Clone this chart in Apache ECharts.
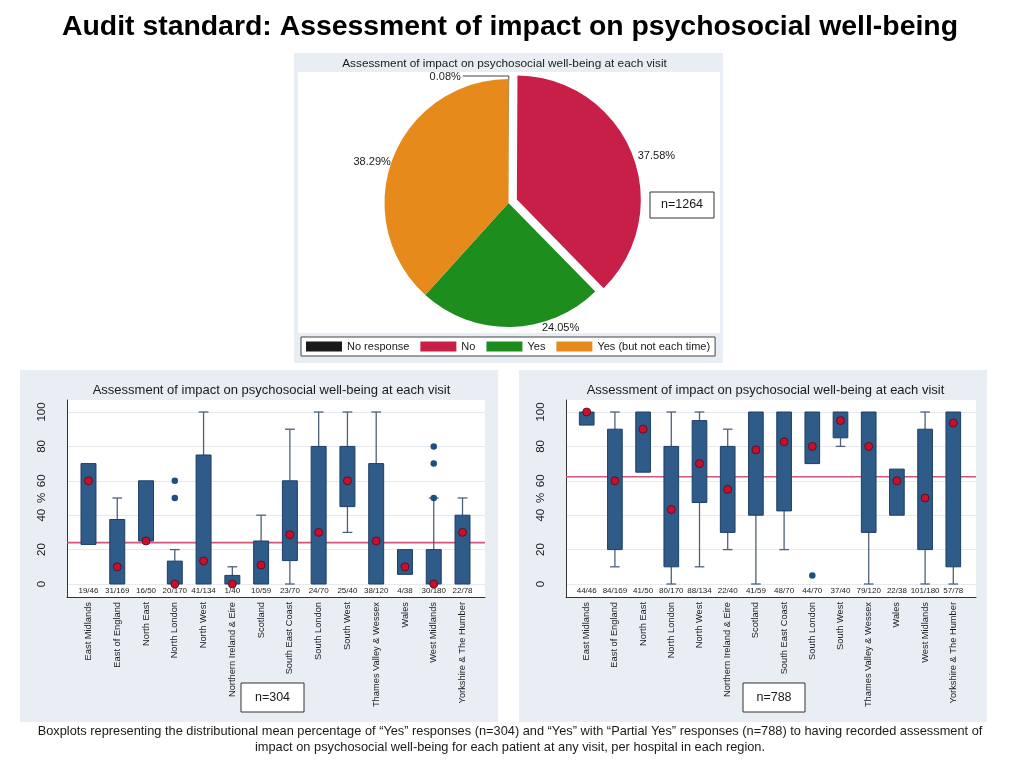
<!DOCTYPE html>
<html><head><meta charset="utf-8">
<script src="https://cdn.jsdelivr.net/npm/echarts@6/dist/echarts.min.js"></script>
<style>html,body{margin:0;padding:0;background:#fff;}#c{width:1024px;height:768px;}</style>
</head><body><div id="c"></div>
<script>
// ---------------- data ----------------
const pieCategories = ['No response', 'No', 'Yes', 'Yes (but not each time)'];
const pieValues = [0.08, 37.58, 24.05, 38.29];
const pieN = 'n=1264';

const regions = ['East Midlands', 'East of England', 'North East', 'North London', 'North West',
  'Northern Ireland & Eire', 'Scotland', 'South East Coast', 'South London', 'South West',
  'Thames Valley & Wessex', 'Wales', 'West Midlands', 'Yorkshire & The Humber'];

// Left panel: "Yes" responses (n=304)
const yesFractions = ['19/46', '31/169', '16/50', '20/170', '41/134', '1/40', '10/59', '23/70', '24/70', '25/40', '38/120', '4/38', '30/180', '22/78'];
const yesLow  = [23, 0, 25, 0, 0, 0, 0, 0, 0, 30, 0, 5.6, 0, 0];
const yesQ1   = [23, 0, 25, 0, 0, 0, 0, 13.6, 0, 45, 0, 5.6, 0, 0];
const yesQ3   = [70, 37.5, 60, 13.3, 75, 5, 25, 60, 80, 80, 70, 20, 20, 40];
const yesHigh = [70, 50, 60, 20, 100, 10, 40, 90, 100, 100, 100, 20, 50, 50];
const yesMean = [60, 10, 25, 0, 13.4, 0, 11, 28.7, 30, 60, 25, 10, 0, 30];
const yesOutliers = [['North London', 50], ['North London', 60], ['West Midlands', 50], ['West Midlands', 70], ['West Midlands', 80]];
const yesN = 'n=304';

// Right panel: "Yes" + "Partial Yes" responses (n=788)
const partFractions = ['44/46', '84/169', '41/50', '80/170', '88/134', '22/40', '41/59', '48/70', '44/70', '37/40', '79/120', '22/38', '101/180', '57/78'];
const partLow  = [92.4, 10, 65, 0, 10, 20, 0, 20, 70, 80, 0, 40, 0, 0];
const partQ1   = [92.4, 20, 65, 10, 47.4, 30, 40, 42.5, 70, 85, 30, 40, 20, 10];
const partQ3   = [100, 90, 100, 80, 95, 80, 100, 100, 100, 100, 100, 66.8, 90, 100];
const partHigh = [100, 100, 100, 100, 100, 90, 100, 100, 100, 100, 100, 66.8, 100, 100];
const partMean = [100, 60, 90, 43.3, 70, 55, 78, 82.7, 80, 95, 80, 60, 50, 93.6];
const partOutliers = [['South London', 5]];
const partN = 'n=788';

const yTicks = [0, 20, 40, 60, 80, 100];
const mainTitle = 'Audit standard: Assessment of impact on psychosocial well-being';
const subTitle = 'Assessment of impact on psychosocial well-being at each visit';
const caption = 'Boxplots representing the distributional mean percentage of \u201cYes\u201d responses (n=304) and \u201cYes\u201d with \u201cPartial Yes\u201d responses (n=788) to having recorded assessment of\nimpact on psychosocial well-being for each patient at any visit, per hospital in each region.';

// ---------------- style ----------------
const FONT = "'Liberation Sans Narrow','Arial Narrow','Liberation Sans',Arial,sans-serif";
const PANEL = '#e8eef3';
const BOX = '#2e5b88';
const BOX_EDGE = '#1c3f66';
const WHISKER = '#4f6179';
const OUTLIER = '#1f4f80';
const MEAN = '#c8102e';
const REFLINE = '#d0557a';
const PIE_COLORS = ['#1a1a1a', '#c81f48', '#1d8d1d', '#e68a1c'];
const TXT = '#1a1a1a';

const overallYes = pieValues[2];
const overallYesPartial = +(pieValues[2] + pieValues[3]).toFixed(2);

const panels = [
  { plot: [67, 400, 418, 197], lab: [67, 412, 418, 172], data: [74.1, 412, 402.8, 172],
    fr: yesFractions, lo: yesLow, q1: yesQ1, q3: yesQ3, hi: yesHigh, mean: yesMean, out: yesOutliers, ref: overallYes },
  { plot: [566, 400, 410, 197], lab: [566, 412, 410, 172], data: [572.6, 412, 394.8, 172],
    fr: partFractions, lo: partLow, q1: partQ1, q3: partQ3, hi: partHigh, mean: partMean, out: partOutliers, ref: overallYesPartial }
];

function rectOpt(r) { return { left: r[0], top: r[1], width: r[2], height: r[3], outerBoundsMode: 'none', containLabel: false }; }

function renderBox(params, api) {
  const i = api.value(0);
  const lo = api.value(1), q1 = api.value(2), q3 = api.value(3), hi = api.value(4);
  const band = api.size([1, 0])[0];
  const bw = band * 0.52, cw = band * 0.34;
  const pLo = api.coord([i, lo]), pQ1 = api.coord([i, q1]), pQ3 = api.coord([i, q3]), pHi = api.coord([i, hi]);
  const x = pQ1[0];
  const ws = { stroke: WHISKER, lineWidth: 1.3 };
  const children = [];
  if (hi > q3) {
    children.push({ type: 'line', shape: { x1: x, y1: pQ3[1], x2: x, y2: pHi[1] }, style: ws });
    children.push({ type: 'line', shape: { x1: x - cw / 2, y1: pHi[1], x2: x + cw / 2, y2: pHi[1] }, style: ws });
  }
  if (lo < q1) {
    children.push({ type: 'line', shape: { x1: x, y1: pQ1[1], x2: x, y2: pLo[1] }, style: ws });
    children.push({ type: 'line', shape: { x1: x - cw / 2, y1: pLo[1], x2: x + cw / 2, y2: pLo[1] }, style: ws });
  }
  children.push({ type: 'rect', shape: { x: x - bw / 2, y: pQ3[1], width: bw, height: pQ1[1] - pQ3[1] },
    style: { fill: BOX, stroke: BOX_EDGE, lineWidth: 1 } });
  return { type: 'group', children };
}

const grid = [], xAxis = [], yAxis = [], series = [];
panels.forEach((p, k) => {
  const g0 = grid.length;
  grid.push(Object.assign(rectOpt(p.plot), { show: true, backgroundColor: '#ffffff', borderWidth: 0 }));
  grid.push(rectOpt(p.lab));
  grid.push(rectOpt(p.data));
  const x0 = xAxis.length, y0 = yAxis.length;
  xAxis.push({ type: 'value', gridIndex: g0, min: 0, max: 1, axisLine: { show: true, onZero: false, lineStyle: { color: '#333', width: 1 } },
    axisTick: { show: false }, axisLabel: { show: false }, splitLine: { show: false } });
  yAxis.push({ type: 'value', gridIndex: g0, min: 0, max: 1, axisLine: { show: true, onZero: false, lineStyle: { color: '#333', width: 1 } },
    axisTick: { show: false }, axisLabel: { show: false }, splitLine: { show: false } });
  xAxis.push({ type: 'value', gridIndex: g0 + 1, min: 0, max: 1, show: false });
  yAxis.push({ type: 'value', gridIndex: g0 + 1, min: yTicks[0], max: yTicks[yTicks.length - 1], interval: 20,
    axisLine: { show: false }, axisTick: { show: false },
    axisLabel: { rotate: 90, margin: 19, fontSize: 11.5, color: TXT, fontFamily: FONT },
    splitLine: { show: true, lineStyle: { color: '#e6eaee', width: 1 } },
    name: '%', nameLocation: 'middle', nameGap: 19, nameRotate: 90, nameMoveOverlap: false,
    nameTextStyle: { fontSize: 11.5, color: TXT, fontFamily: FONT } });
  xAxis.push({ type: 'category', gridIndex: g0 + 2, data: regions, position: 'bottom', offset: 13,
    axisLine: { show: false }, axisTick: { show: false },
    axisLabel: { interval: 0, rotate: 90, margin: 5, fontSize: 9.3, color: TXT, fontFamily: FONT } });
  xAxis.push({ type: 'category', gridIndex: g0 + 2, data: p.fr, position: 'bottom', offset: 0,
    axisLine: { show: false }, axisTick: { show: false },
    axisLabel: { interval: 0, margin: 3, fontSize: 8, color: TXT, fontFamily: FONT } });
  yAxis.push({ type: 'value', gridIndex: g0 + 2, min: 0, max: 100, show: false });

  series.push({ type: 'line', xAxisIndex: x0 + 1, yAxisIndex: y0 + 1, data: [[0, p.ref], [1, p.ref]], symbol: 'none', silent: true,
    lineStyle: { color: REFLINE, width: 1.6 }, z: 1 });
  series.push({ type: 'custom', xAxisIndex: x0 + 2, yAxisIndex: y0 + 2, renderItem: renderBox, silent: true, z: 3,
    encode: { x: 0, y: [1, 2, 3, 4] },
    data: regions.map((r, i) => [i, p.lo[i], p.q1[i], p.q3[i], p.hi[i]]) });
  series.push({ type: 'scatter', xAxisIndex: x0 + 2, yAxisIndex: y0 + 2, data: p.out, symbol: 'circle', symbolSize: 6.5, silent: true, z: 4,
    itemStyle: { color: OUTLIER, opacity: 1 } });
  series.push({ type: 'scatter', xAxisIndex: x0 + 2, yAxisIndex: y0 + 2, data: regions.map((r, i) => [r, p.mean[i]]), symbol: 'circle', symbolSize: 8, silent: true, z: 5,
    itemStyle: { color: MEAN, borderColor: '#4a0d18', borderWidth: 0.8, opacity: 1 } });
});

series.push({
  type: 'pie', center: [508.5, 203], radius: 124, startAngle: 90, clockwise: true,
  selectedMode: 'single', selectedOffset: 9, avoidLabelOverlap: false, silent: true,
  data: pieCategories.map((n, i) => ({ name: n, value: pieValues[i], itemStyle: { color: PIE_COLORS[i] }, selected: i === 1,
    labelLine: { show: i === 0 } })),
  label: { show: true, position: 'outside', formatter: (q) => q.value.toFixed(2) + '%', fontSize: 11, color: TXT, fontFamily: FONT, distanceToLabelLine: 5 },
  labelLine: { show: false, length: 0, length2: 0, lineStyle: { color: '#444', width: 1 } },
  labelLayout: function (q) {
    if (q.dataIndex === 2) return { dx: 26, dy: 1 };
    if (q.dataIndex === 1) return { dx: 1, dy: 3 };
    if (q.dataIndex === 3) return { dx: 3, dy: 4 };
    const px = q.rect.x + q.rect.width / 2, py = q.rect.y;
    return { x: px - 48, y: py - 2, align: 'right', verticalAlign: 'middle',
      labelLinePoints: [[px, py], [px, py - 3], [px - 46, py - 3]] };
  },
  itemStyle: { borderWidth: 0 },
  select: { itemStyle: { borderWidth: 0 } }
});

function txt(x, y, s, size, extra) {
  return Object.assign({ type: 'text', x: x, y: y, silent: true, z: 10,
    style: Object.assign({ text: s, fontSize: size, fontFamily: FONT, fill: TXT, align: 'center', verticalAlign: 'middle' }, extra || {}) });
}
function nbox(x, y, w, h, s) {
  return { type: 'group', silent: true, z: 10, children: [
    { type: 'rect', shape: { x: x, y: y, width: w, height: h }, style: { fill: '#fff', stroke: '#333', lineWidth: 1 } },
    { type: 'text', x: x + w / 2, y: y + h / 2, style: { text: s, fontSize: 12.5, fontFamily: FONT, fill: TXT, align: 'center', verticalAlign: 'middle' } }
  ] };
}

const option = {
  animation: false,
  textStyle: { fontFamily: FONT },
  grid, xAxis, yAxis, series,
  legend: {
    data: pieCategories, left: 301, top: 337, orient: 'horizontal', selectedMode: false,
    itemWidth: 36, itemHeight: 10, itemGap: 11, icon: 'rect', padding: [4, 5],
    backgroundColor: '#fff', borderColor: '#444', borderWidth: 1, borderRadius: 0,
    textStyle: { fontSize: 11, color: TXT, fontFamily: FONT }
  },
  graphic: [
    { type: 'rect', z: -10, silent: true, shape: { x: 294, y: 53, width: 429, height: 310 }, style: { fill: PANEL } },
    { type: 'rect', z: -9, silent: true, shape: { x: 298, y: 72, width: 422, height: 261 }, style: { fill: '#fff' } },
    { type: 'rect', z: -10, silent: true, shape: { x: 20, y: 370, width: 478, height: 352 }, style: { fill: PANEL } },
    { type: 'rect', z: -10, silent: true, shape: { x: 519, y: 370, width: 468, height: 352 }, style: { fill: PANEL } },
    txt(510, 27, mainTitle, 28.4, { fontWeight: 'bold', fill: '#000' }),
    txt(504.5, 64, subTitle, 11.8),
    txt(271.5, 390, subTitle, 13),
    txt(765.5, 390, subTitle, 13),
    txt(510, 739, caption, 12.8, { lineHeight: 16 }),
    nbox(650, 192, 64, 26, pieN),
    nbox(241, 683, 63, 29, yesN),
    nbox(743, 683, 62, 29, partN)
  ]
};

const chart = echarts.init(document.getElementById('c'), null, { renderer: 'canvas' });
chart.setOption(option);
</script>
</body></html>
